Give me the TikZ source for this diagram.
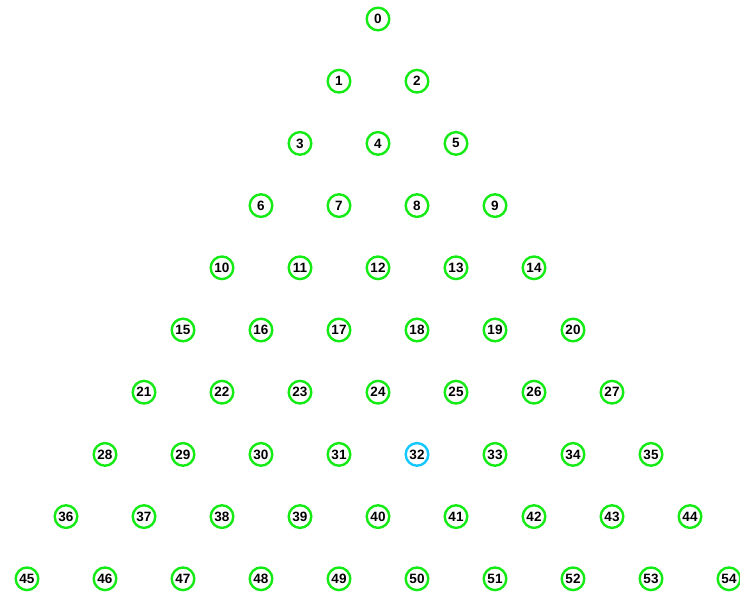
\documentclass[tikz,border=0pt]{standalone}
\usepackage{fontspec}
\setmainfont{Liberation Sans}
\definecolor{ballgreen}{RGB}{20,235,20}
\definecolor{ballblue}{RGB}{20,200,255}
\begin{document}
\begin{tikzpicture}[x=1pt,y=-1pt,
  ball/.style={circle,draw=ballgreen,line width=2.4pt,minimum size=22.6pt,inner sep=0pt,
    font=\fontsize{13.5}{14}\selectfont\bfseries,text=black},
  ballsel/.style={ball,draw=ballblue}]
\useasboundingbox (0,0) rectangle (740,594);
\foreach \r in {0,...,9}{
  \foreach \k in {0,...,\r}{
    \pgfmathtruncatemacro{\idx}{\r*(\r+1)/2+\k}
    \pgfmathsetmacro{\px}{378-39*\r+78*\k}
    \pgfmathsetmacro{\py}{19+62.2*\r}
    \ifnum\idx=32
      \node[ballsel] (n\idx) at (\px,\py) {\idx};
    \else
      \node[ball] (n\idx) at (\px,\py) {\idx};
    \fi
  }
}
\end{tikzpicture}
\end{document}
